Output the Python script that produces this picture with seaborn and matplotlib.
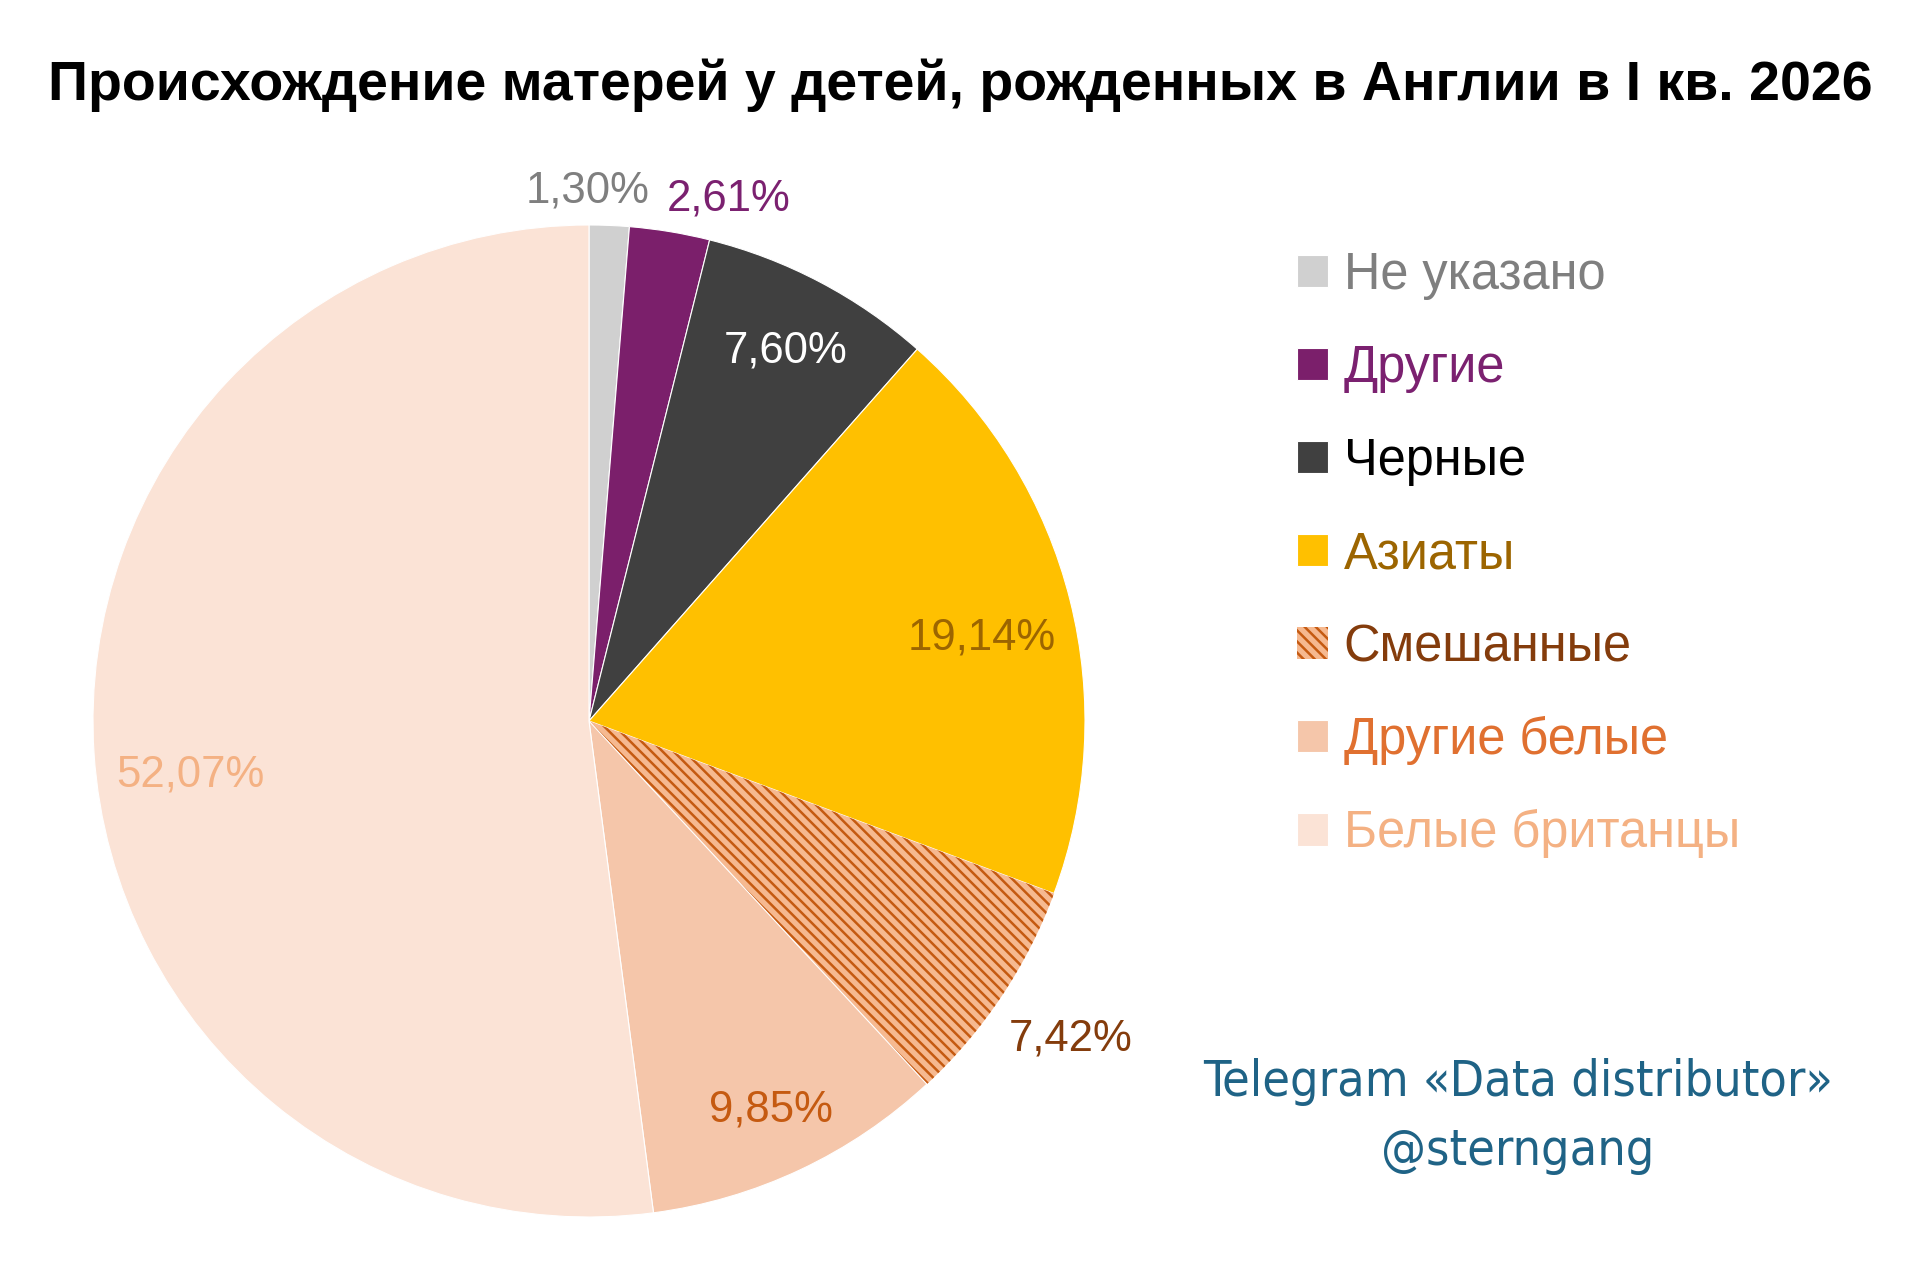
import matplotlib
matplotlib.use("Agg")
import matplotlib.pyplot as plt
import seaborn as sns
import numpy as np

# ---- data ----
categories = ["Не указано", "Другие", "Черные", "Азиаты", "Смешанные", "Другие белые", "Белые британцы"]
values = [1.30, 2.61, 7.60, 19.14, 7.42, 9.85, 52.07]
value_labels = ["1,30%", "2,61%", "7,60%", "19,14%", "7,42%", "9,85%", "52,07%"]

# ---- styles ----
slice_colors = ["#D0D0D0", "#7B1F6B", "#404040", "#FFC000", "#F6B990", "#F5C6AA", "#FBE3D6"]
label_colors = ["#7F7F7F", "#7B2170", "#FFFFFF", "#9C6500", "#843C0C", "#C55A11", "#F4B183"]
legend_text_colors = ["#7F7F7F", "#7B2170", "#000000", "#9C6500", "#843C0C", "#E07030", "#F4B183"]
label_dist = [1.075, 1.095, 0.85, 0.81, 1.16, 0.86, 0.81]
label_angle_shift = [2.5, -5.5, 0.0, -1.8, 0.5, 0.0, 3.5]

sns.set_theme(style="white")
plt.rcParams["font.family"] = ["Liberation Sans", "DejaVu Sans"]
plt.rcParams["hatch.linewidth"] = 1.8

fig = plt.figure(figsize=(19.2, 12.64), dpi=100)
fig.patch.set_facecolor("white")

ax = fig.add_axes([93 / 1920, 47 / 1264, 992 / 1920, 992 / 1264])
wedges, _ = ax.pie(values, colors=slice_colors, startangle=90, counterclock=False,
                   radius=1.0, wedgeprops=dict(edgecolor="white", linewidth=0.8))
# hatched "mixed" slice
w = wedges[4]
w.set_edgecolor("#C55A11")
w.set_linewidth(0)
w.set_hatch("\\\\\\")
ax.set_xlim(-1, 1)
ax.set_ylim(-1, 1)
ax.set_aspect("equal")
ax.axis("off")

for wd, lab, col, d, sh in zip(wedges, value_labels, label_colors, label_dist, label_angle_shift):
    ang = np.deg2rad((wd.theta1 + wd.theta2) / 2 + sh)
    ax.text(d * np.cos(ang), d * np.sin(ang) - 0.006, lab, ha="center", va="center",
            fontsize=31.5, color=col)

fig.text(0.5, 1 - 85 / 1264, "Происхождение матерей у детей, рожденных в Англии в I кв. 2026",
         ha="center", va="center", fontsize=40, fontweight="bold", color="black")

leg = fig.legend(wedges, categories, loc="upper left",
                 bbox_to_anchor=(1277 / 1920, 1 - 231 / 1264), frameon=False,
                 fontsize=36.4, labelspacing=0.87, handlelength=0.6, handleheight=0.6,
                 handletextpad=0.32, borderaxespad=0)
for t, c in zip(leg.get_texts(), legend_text_colors):
    t.set_color(c)

wm_font = dict(fontsize=36, color="#1F6386", family=["DejaVu Sans"], fontstretch="condensed")
fig.text(1518 / 1920, 1 - 1082 / 1264, "Telegram «Data distributor»", ha="center", va="center", **wm_font)
fig.text(1518 / 1920, 1 - 1151 / 1264, "@sterngang", ha="center", va="center", **wm_font)

fig.savefig("out.png", dpi=100, facecolor="white")
